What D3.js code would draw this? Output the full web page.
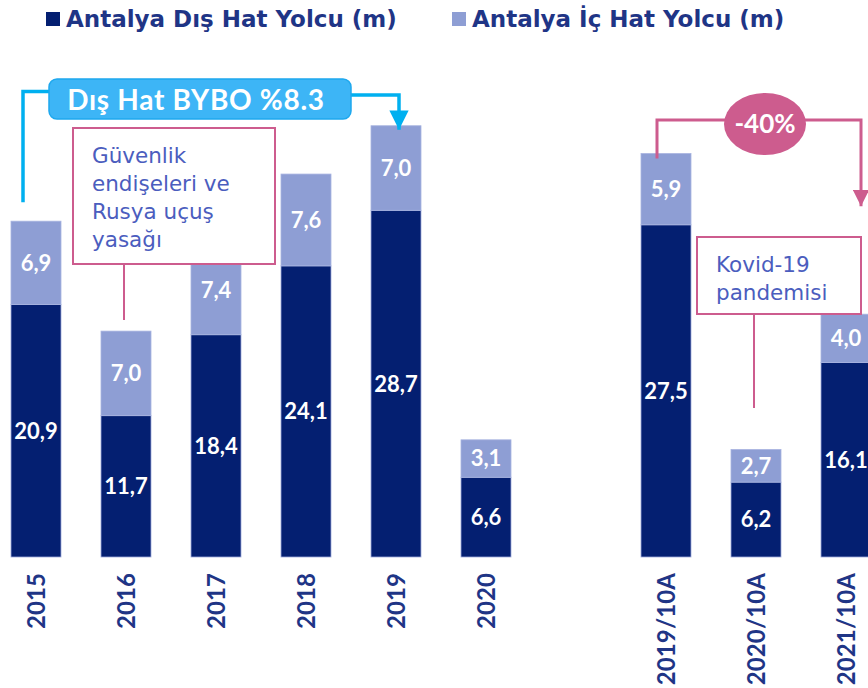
<!DOCTYPE html>
<html>
<head>
	<meta charset="utf-8">
	<style>
		body, html { margin: 0; padding: 0; background: #fff; }
		svg { display: block; }
	</style>
</head>
<body>
	<svg id="svg" width="868" height="688"></svg>

	<script src="https://d3js.org/d3.v7.min.js"></script>
	<script>
		// Data (millions of passengers)
		const categories = ['2015', '2016', '2017', '2018', '2019', '2020', '', '2019/10A', '2020/10A', '2021/10A']
		const disHat = [20.9, 11.7, 18.4, 24.1, 28.7, 6.6, null, 27.5, 6.2, 16.1]
		const icHat = [6.9, 7.0, 7.4, 7.6, 7.0, 3.1, null, 5.9, 2.7, 4.0]
		const legendLabels = ['Antalya Dış Hat Yolcu (m)', 'Antalya İç Hat Yolcu (m)']

		const dark = '#041F71'
		const light = '#8E9ED4'
		const navyText = '#1F3586'
		const cyan = '#00B0F0'
		const pink = '#CD5C8E'
		const font = 'Lato, "Open Sans", sans-serif'
		const wide = '"DejaVu Sans", sans-serif'

		const svg = d3.select('#svg')

		// Scales - one empty slot between the yearly and the 10-month groups
		const x = d3.scaleBand()
			.domain(categories.map((c, i) => i))
			.range([-9, 891])
			.paddingInner(40 / 90)
			.paddingOuter(20 / 90)

		const y = d3.scaleLinear()
			.domain([0, 40])
			.range([557, 557 - 40 * 12.08])

		const rows = categories.map((c, i) => ({ i, c, dis: disHat[i], ic: icHat[i] }))
			.filter(d => d.dis != null)

		// Bars
		const g = svg.selectAll('g.bar')
			.data(rows)
			.join('g')
			.attr('class', 'bar')

		g.append('rect')
			.attr('x', d => x(d.i))
			.attr('width', x.bandwidth())
			.attr('y', d => y(d.dis))
			.attr('height', d => y(0) - y(d.dis))
			.attr('fill', dark)
			.attr('stroke', '#9eabdc')
			.attr('stroke-width', 0.8)

		g.append('rect')
			.attr('x', d => x(d.i))
			.attr('width', x.bandwidth())
			.attr('y', d => y(d.dis + d.ic))
			.attr('height', d => y(d.dis) - y(d.dis + d.ic))
			.attr('fill', light)
			.attr('stroke', '#a8b4e0')
			.attr('stroke-width', 0.8)

		const fmt = v => v.toFixed(1).replace('.', ',')

		g.append('text')
			.attr('x', d => x(d.i) + x.bandwidth() / 2)
			.attr('y', d => (y(0) + y(d.dis)) / 2)
			.attr('dy', '0.36em')
			.text(d => fmt(d.dis))

		g.append('text')
			.attr('x', d => x(d.i) + x.bandwidth() / 2)
			.attr('y', d => (y(d.dis) + y(d.dis + d.ic)) / 2)
			.attr('dy', '0.36em')
			.text(d => fmt(d.ic))

		g.selectAll('text')
			.attr('text-anchor', 'middle')
			.attr('fill', '#fff')
			.attr('font-family', font)
			.attr('font-weight', 'bold')
			.attr('font-size', 22)

		// Category labels, rotated
		svg.selectAll('text.cat')
			.data(rows)
			.join('text')
			.attr('class', 'cat')
			.attr('transform', d => `translate(${x(d.i) + x.bandwidth() / 2 + 8.5}, 573) rotate(-90)`)
			.attr('text-anchor', 'end')
			.attr('fill', navyText)
			.attr('font-family', font)
			.attr('font-weight', 'bold')
			.attr('font-size', 24)
			.attr('letter-spacing', 0.1)
			.text(d => d.c)

		// Legend
		const legend = svg.selectAll('g.legend')
			.data(legendLabels)
			.join('g')
			.attr('class', 'legend')
			.attr('transform', (d, i) => `translate(${i ? 452 : 46}, 0)`)

		legend.append('rect')
			.attr('y', 12)
			.attr('width', 14)
			.attr('height', 14)
			.attr('fill', (d, i) => i ? light : dark)

		legend.append('text')
			.attr('x', 20)
			.attr('y', 27)
			.attr('fill', navyText)
			.attr('font-family', wide)
			.attr('font-weight', 'bold')
			.attr('font-size', 23)
			.text(d => d)

		// Arrow heads
		const defs = svg.append('defs')
		function marker(id, color) {
			defs.append('marker')
				.attr('id', id)
				.attr('viewBox', '0 0 10 10')
				.attr('refX', 10).attr('refY', 5)
				.attr('markerWidth', 5.5).attr('markerHeight', 5.5)
				.attr('markerUnits', 'strokeWidth')
				.attr('orient', 'auto')
				.append('path')
				.attr('d', 'M0,0 L10,5 L0,10 Z')
				.attr('fill', color)
		}
		marker('arrCyan', cyan)
		marker('arrPink', pink)

		// "Dış Hat BYBO" growth annotation 2015 -> 2019
		const xc = i => x(i) + x.bandwidth() / 2
		svg.append('path')
			.attr('d', `M${xc(0) - 13},${y(disHat[0] + icHat[0]) - 19} V91.5 H60`)
			.attr('fill', 'none').attr('stroke', cyan).attr('stroke-width', 3.5)
		svg.append('path')
			.attr('d', `M340,95 H${xc(4) + 3} V${y(disHat[4] + icHat[4]) + 4}`)
			.attr('fill', 'none').attr('stroke', cyan).attr('stroke-width', 3.5)
			.attr('marker-end', 'url(#arrCyan)')
		svg.append('rect')
			.attr('x', 49).attr('y', 79)
			.attr('width', 302).attr('height', 40)
			.attr('rx', 8)
			.attr('fill', '#3DB5F6')
			.attr('stroke', '#1EA8EE').attr('stroke-width', 1.5)
		svg.append('text')
			.attr('x', 196).attr('y', 110)
			.attr('text-anchor', 'middle')
			.attr('fill', '#fff')
			.attr('font-family', font).attr('font-weight', 'bold').attr('font-size', 28)
			.attr('letter-spacing', 0.7)
			.text('Dış Hat BYBO %8.3')

		// -40% annotation 2019/10A -> 2021/10A
		svg.append('path')
			.attr('d', `M${xc(7) - 9},${y(disHat[7] + icHat[7]) + 5} V120 H${xc(9) + 15} V${y(disHat[9] + icHat[9]) - 108}`)
			.attr('fill', 'none').attr('stroke', pink).attr('stroke-width', 3)
			.attr('marker-end', 'url(#arrPink)')
		svg.append('ellipse')
			.attr('cx', 765).attr('cy', 124)
			.attr('rx', 41).attr('ry', 31)
			.attr('fill', pink)
		svg.append('text')
			.attr('x', 765).attr('y', 133)
			.attr('text-anchor', 'middle')
			.attr('fill', '#fff')
			.attr('font-family', font).attr('font-weight', 'bold').attr('font-size', 26)
			.text('-40%')

		// Call-out boxes
		function callout(bx, by, bw, bh, lines, lx, ly2) {
			svg.append('line')
				.attr('x1', lx).attr('x2', lx)
				.attr('y1', by + bh).attr('y2', ly2)
				.attr('stroke', pink).attr('stroke-width', 2)
			svg.append('rect')
				.attr('x', bx).attr('y', by)
				.attr('width', bw).attr('height', bh)
				.attr('fill', '#fff')
				.attr('stroke', pink).attr('stroke-width', 2)
			svg.append('text')
				.attr('fill', '#4B5DBE')
				.attr('font-family', wide).attr('font-size', 21.5)
				.selectAll('tspan')
				.data(lines)
				.join('tspan')
				.attr('x', bx + 19)
				.attr('y', (d, i) => by + 35 + i * 28)
				.text(d => d)
		}
		callout(73, 128, 202, 136, ['Güvenlik', 'endişeleri ve', 'Rusya uçuş', 'yasağı'], 124, 320)
		callout(697, 237, 164, 77, ['Kovid-19', 'pandemisi'], 754, 408)
	</script>
</body>
</html>
